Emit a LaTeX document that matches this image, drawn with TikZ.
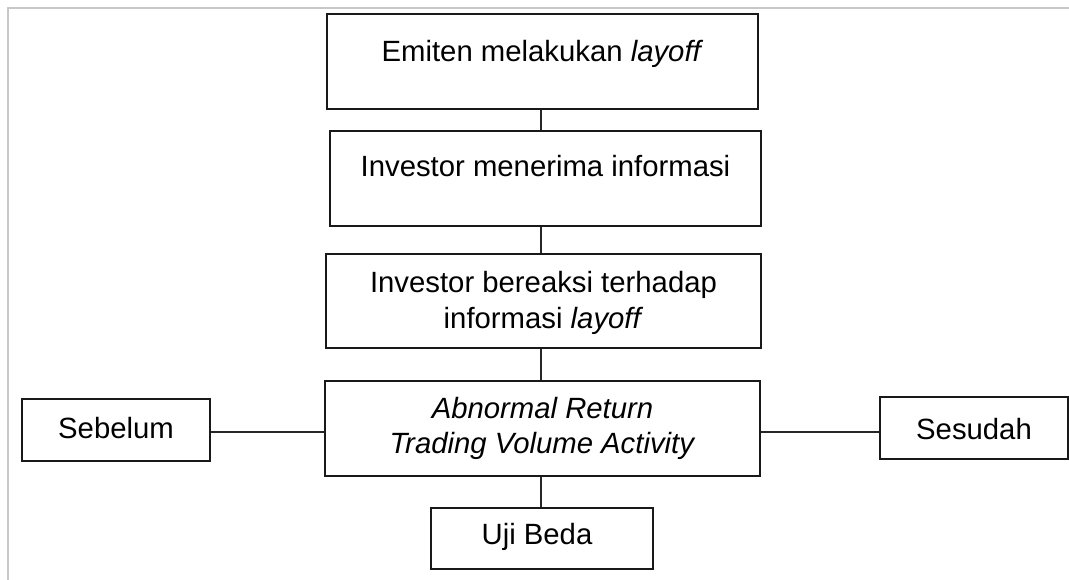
\documentclass[tikz,border=0pt]{standalone}
\usepackage{fontspec}
\setmainfont{Liberation Sans}
\begin{document}
\begin{tikzpicture}[x=1pt,y=-1pt,
  box/.style={draw=black!90, line width=1.3pt, rectangle, inner sep=0pt},
  txt/.style={anchor=base, inner sep=0pt, font=\fontsize{29.3}{35}\selectfont, align=center},
  conn/.style={draw=black!85, line width=1.3pt},
  frameline/.style={draw=black!22, line width=2.4pt}]
\useasboundingbox (0,0) rectangle (1069,580);
% frame
\coordinate (fa) at (7,8);
\coordinate (fb) at (1069,8);
\coordinate (fc) at (8,580);
\draw[frameline] (fb) -- (fa -| fc) -- (fc);
% boxes
\node[box, minimum width=431, minimum height=95] (b1) at (542.5,61.5) {};
\node[box, minimum width=431, minimum height=95] (b2) at (545.5,178.5) {};
\node[box, minimum width=435, minimum height=94] (b3) at (543.5,301) {};
\node[box, minimum width=435, minimum height=95] (b4) at (542.5,428.5) {};
\node[box, minimum width=188, minimum height=62] (sb) at (116,430) {};
\node[box, minimum width=188, minimum height=62] (sd) at (974,428) {};
\node[box, minimum width=222, minimum height=61] (ub) at (542,538.5) {};
% texts
\node[txt] (t1) at (542.5,62) {Emiten melakukan \textit{layoff}};
\node[txt] (t2) at (545.5,177) {Investor menerima informasi};
\node[txt] (t3a) at (543.5,293) {Investor bereaksi terhadap};
\node[txt] (t3b) at (543.5,328) {informasi \textit{layoff}};
\node[txt] (t4a) at (542.5,418) {\textit{Abnormal Return}};
\node[txt] (t4b) at (542.5,453) {\textit{Trading Volume Activity}};
\node[txt] (tsb) at (116,438) {Sebelum};
\node[txt] (tsd) at (974,439) {Sesudah};
\node[txt] (tub) at (537,544) {Uji Beda};
% connectors
\coordinate (vx) at (541,0);
\coordinate (hy) at (0,432);
\draw[conn] (b1.south -| vx) -- (b2.north -| vx);
\draw[conn] (b2.south -| vx) -- (b3.north -| vx);
\draw[conn] (b3.south -| vx) -- (b4.north -| vx);
\draw[conn] (b4.south -| vx) -- (ub.north -| vx);
\draw[conn] (sb.east |- hy) -- (b4.west |- hy);
\draw[conn] (b4.east |- hy) -- (sd.west |- hy);
\end{tikzpicture}
\end{document}
